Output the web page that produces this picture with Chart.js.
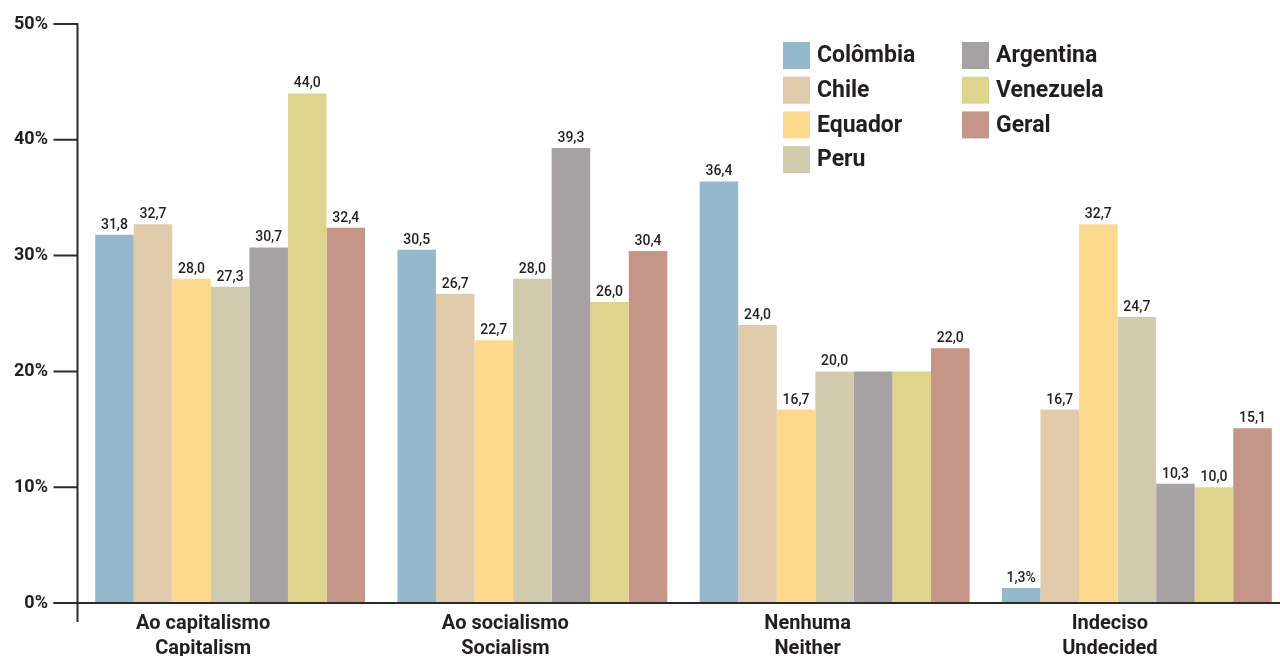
<!DOCTYPE html>
<html>
<head>
<meta charset="utf-8">
<title>Preferência: capitalismo ou socialismo</title>
<script src="https://cdn.jsdelivr.net/npm/chart.js@4.4.1/dist/chart.umd.min.js"></script>
<style>
  html, body { margin: 0; padding: 0; background: #ffffff; overflow: hidden; }
  #wrap { width: 1288px; height: 656px; }
</style>
</head>
<body>
<div id="wrap"><canvas id="chart" width="1288" height="656"></canvas></div>
<script>
// Categories (two-line labels: Portuguese / English)
const categories = [
  ['Ao capitalismo', 'Capitalism'],
  ['Ao socialismo', 'Socialism'],
  ['Nenhuma', 'Neither'],
  ['Indeciso', 'Undecided']
];

// Share of respondents (%) per country
const colombia  = [31.8, 30.5, 36.4, 1.3];
const chile     = [32.7, 26.7, 24.0, 16.7];
const equador   = [28.0, 22.7, 16.7, 32.7];
const peru      = [27.3, 28.0, 20.0, 24.7];
const argentina = [30.7, 39.3, 20.0, 10.3];
const venezuela = [44.0, 26.0, 20.0, 10.0];
const geral     = [32.4, 30.4, 22.0, 15.1];

const seriesNames = ['Colômbia', 'Chile', 'Equador', 'Peru', 'Argentina', 'Venezuela', 'Geral'];
const seriesColors = ['#94b9cd', '#e1cbaa', '#fdda8b', '#d0cbac', '#a6a1a2', '#ded48b', '#c59587'];

// Y axis tick values (%)
const yTicks = [0, 10, 20, 30, 40, 50];

// Value labels: [series, category] pairs without a label, and those shown with "%"
const unlabeled = [[4, 2], [5, 2]];
const withPercent = [[0, 3]];

const INK = '#231f20';
const FONT = 'Roboto, "Liberation Sans", Arial, sans-serif';

const allSeries = [colombia, chile, equador, peru, argentina, venezuela, geral];

const datasets = allSeries.map((vals, i) => ({
  label: seriesNames[i],
  data: vals,
  backgroundColor: seriesColors[i],
  borderWidth: 0,
  barPercentage: 1.0,
  categoryPercentage: 0.893
}));

const has = (list, d, c) => list.some(p => p[0] === d && p[1] === c);

// Axis lines and tick marks
const axesPlugin = {
  id: 'axesLines',
  afterDatasetsDraw(chart) {
    const { ctx, chartArea, scales } = chart;
    const y = scales.y;
    const x0 = chartArea.left - 1.5;
    const yZero = y.getPixelForValue(0);
    ctx.save();
    ctx.strokeStyle = '#2b2b2b';
    ctx.lineWidth = 2;
    ctx.beginPath();
    // vertical axis, running a little below zero
    ctx.moveTo(x0, y.getPixelForValue(50) - 1);
    ctx.lineTo(x0, yZero + 19);
    // horizontal baseline
    ctx.moveTo(x0 - 24, yZero);
    ctx.lineTo(chartArea.right, yZero);
    ctx.stroke();
    // tick marks
    ctx.beginPath();
    yTicks.forEach(v => {
      const py = y.getPixelForValue(v);
      ctx.moveTo(x0 - 24, py);
      ctx.lineTo(x0, py);
    });
    ctx.stroke();
    ctx.restore();
  }
};

// Value labels above bars
const valueLabels = {
  id: 'valueLabels',
  afterDatasetsDraw(chart) {
    const { ctx } = chart;
    ctx.save();
    ctx.font = '500 14px ' + FONT;
    ctx.fillStyle = INK;
    ctx.textAlign = 'center';
    ctx.textBaseline = 'alphabetic';
    chart.data.datasets.forEach((ds, d) => {
      const meta = chart.getDatasetMeta(d);
      meta.data.forEach((bar, c) => {
        if (has(unlabeled, d, c)) return;
        let txt = ds.data[c].toFixed(1).replace('.', ',');
        if (has(withPercent, d, c)) txt += '%';
        ctx.fillText(txt, bar.x, bar.y - 6);
      });
    });
    ctx.restore();
  }
};

// Two-column legend in the upper right
const legendPlugin = {
  id: 'boxLegend',
  afterDraw(chart) {
    const { ctx } = chart;
    const cols = [[0, 1, 2, 3], [4, 5, 6]];
    const colX = [783, 962];
    const top = 42, step = 34.7, box = 27;
    ctx.save();
    ctx.font = 'bold 23px ' + FONT;
    ctx.textAlign = 'left';
    ctx.textBaseline = 'middle';
    cols.forEach((idxs, ci) => {
      idxs.forEach((s, r) => {
        const yy = top + r * step;
        ctx.fillStyle = seriesColors[s];
        ctx.fillRect(colX[ci], yy, box, box);
        ctx.fillStyle = INK;
        ctx.fillText(seriesNames[s], colX[ci] + 34, yy + box / 2 + 1);
      });
    });
    ctx.restore();
  }
};

new Chart(document.getElementById('chart'), {
  type: 'bar',
  data: { labels: categories, datasets },
  options: {
    responsive: false,
    animation: false,
    events: [],
    layout: { autoPadding: false, padding: { top: 24, left: 0, right: 0, bottom: 0 } },
    plugins: { legend: { display: false }, tooltip: { enabled: false } },
    scales: {
      x: {
        grid: { display: false, drawTicks: false },
        border: { display: false },
        ticks: {
          color: INK,
          font: { family: FONT, size: 20, weight: 'bold', lineHeight: 1.25 },
          padding: 8,
          labelOffset: -27,
          maxRotation: 0,
          autoSkip: false
        },
        afterFit(scale) { scale.height = 53; scale.paddingLeft = 0; scale.paddingRight = 0; }
      },
      y: {
        min: 0,
        max: 50,
        grid: { display: false, drawTicks: false },
        border: { display: false },
        afterBuildTicks(scale) { scale.ticks = yTicks.map(v => ({ value: v })); },
        ticks: {
          color: INK,
          font: { family: FONT, size: 18, weight: 'bold' },
          padding: 31,
          callback: v => v + '%'
        },
        afterFit(scale) { scale.width = 79; scale.paddingTop = 0; scale.paddingBottom = 0; }
      }
    }
  },
  plugins: [axesPlugin, valueLabels, legendPlugin]
});
</script>
</body>
</html>
